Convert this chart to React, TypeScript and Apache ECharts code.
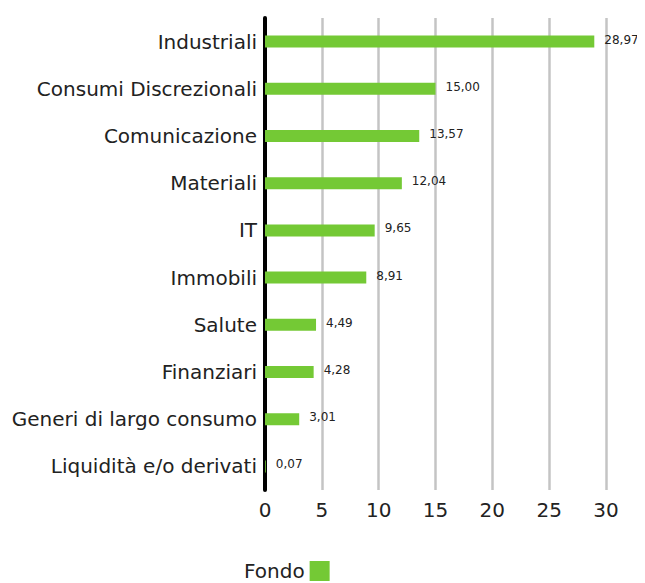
import React, { useEffect, useRef } from "react";
import * as echarts from "echarts";

const categories = [
  "Industriali",
  "Consumi Discrezionali",
  "Comunicazione",
  "Materiali",
  "IT",
  "Immobili",
  "Salute",
  "Finanziari",
  "Generi di largo consumo",
  "Liquidità e/o derivati",
];
const fondoValues = [28.97, 15.0, 13.57, 12.04, 9.65, 8.91, 4.49, 4.28, 3.01, 0.07];
const xTicks = [0, 5, 10, 15, 20, 25, 30];

export default function App() {
  const ref = useRef<HTMLDivElement>(null);
  useEffect(() => {
    if (!ref.current) return;
    const chart = echarts.init(ref.current, undefined, { renderer: "svg" });
    const font = "'DejaVu Sans', sans-serif";
    chart.setOption({
      animation: false,
      grid: { left: 257, right: 39, top: 10, height: 472, containLabel: false },
      legend: {
        data: ["Fondo"],
        left: 236,
        top: 553,
        align: "right",
        padding: 0,
        itemWidth: 20,
        itemHeight: 20,
        itemGap: 8,
        icon: "rect",
        textStyle: { fontSize: 20, lineHeight: 20, color: "#222", fontFamily: font },
      },
      xAxis: {
        type: "value",
        min: xTicks[0],
        max: xTicks[xTicks.length - 1],
        interval: 5,
        axisLine: { show: false },
        axisTick: { show: false },
        axisLabel: { fontSize: 20, color: "#222", fontFamily: font, margin: 10 },
        splitLine: { show: true, lineStyle: { color: "#c4c4c4", width: 2.5 } },
      },
      yAxis: {
        type: "category",
        data: categories,
        inverse: true,
        axisLine: { show: true, lineStyle: { color: "#000", width: 4 } },
        axisTick: { show: false },
        axisLabel: { fontSize: 20, color: "#222", fontFamily: font, margin: 8 },
      },
      series: [
        {
          name: "Fondo",
          type: "bar",
          data: fondoValues,
          barWidth: 12,
          itemStyle: { color: "#74c935" },
          label: {
            show: true,
            position: "right",
            distance: 10,
            offset: [0, -2],
            fontSize: 12,
            color: "#222",
            fontFamily: font,
            formatter: (p: any) => p.value.toFixed(2).replace(".", ","),
          },
        },
      ],
    });
    return () => chart.dispose();
  }, []);
  return <div ref={ref} style={{ width: 637, height: 575 }} />;
}
